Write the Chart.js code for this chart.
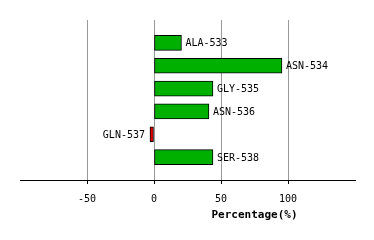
<!DOCTYPE html>
<html>
<head>
<meta charset="utf-8">
<script src="https://cdn.jsdelivr.net/npm/chart.js@4"></script>
<style>
  html, body { margin: 0; padding: 0; background: #fff; }
  #wrap { width: 374px; height: 240px; }
</style>
</head>
<body>
<div id="wrap"><canvas id="c" width="374" height="240"></canvas></div>
<script>
// residues and their percentage values
const residues = ['ALA-533', 'ASN-534', 'GLY-535', 'ASN-536', 'GLN-537', 'SER-538'];
const percentages = [20.5, 95.5, 44, 41, -3, 44];
const xTicks = [-50, 0, 50, 100];

const barColors = percentages.map(v => v < 0 ? '#e00000' : '#00b000');

// labels next to bar ends + bottom title
const labelPlugin = {
  id: 'labels',
  afterDatasetsDraw(chart) {
    const ctx = chart.ctx;
    const meta = chart.getDatasetMeta(0);
    ctx.save();
    ctx.font = '10px "DejaVu Sans Mono"';
    ctx.fillStyle = '#000';
    ctx.textBaseline = 'middle';
    meta.data.forEach((bar, i) => {
      const v = percentages[i];
      if (v < 0) {
        ctx.textAlign = 'right';
        ctx.fillText(residues[i], bar.x - 5, bar.y + 1);
      } else {
        ctx.textAlign = 'left';
        ctx.fillText(residues[i], bar.x + 4, bar.y + 1);
      }
    });
    const xs = chart.scales.x;
    ctx.font = 'bold 11px "DejaVu Sans Mono"';
    ctx.textAlign = 'center';
    ctx.fillText('Percentage(%)', xs.getPixelForValue(75), 215);
    ctx.restore();
  }
};

new Chart(document.getElementById('c'), {
  type: 'bar',
  data: {
    datasets: [{
      data: percentages.map((v, i) => ({ x: v, y: i })),
      backgroundColor: barColors,
      borderColor: '#000',
      borderWidth: 1,
      borderSkipped: false,
      barThickness: 15
    }]
  },
  options: {
    indexAxis: 'y',
    responsive: false,
    animation: false,
    layout: { padding: { left: 20, right: 19, top: 20, bottom: 26 } },
    plugins: { legend: { display: false }, tooltip: { enabled: false } },
    scales: {
      x: {
        type: 'linear',
        min: -100,
        max: 150,
        afterBuildTicks(scale) { scale.ticks = xTicks.map(v => ({ value: v })); },
        grid: { color: '#999', lineWidth: 1, drawTicks: true, tickLength: 4, tickColor: '#000' },
        border: { display: true, color: '#000', width: 1 },
        ticks: { font: { family: 'DejaVu Sans Mono', size: 10 }, color: '#000', padding: 9 }
      },
      y: {
        type: 'linear',
        reverse: true,
        offset: false,
        min: -1,
        max: 6,
        display: false
      }
    }
  },
  plugins: [labelPlugin]
});
</script>
</body>
</html>
